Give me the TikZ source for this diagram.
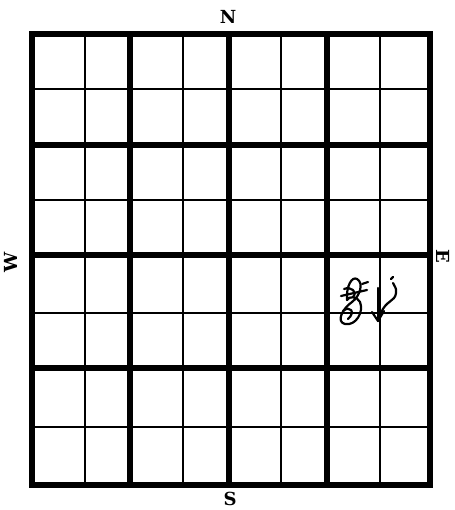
\documentclass[tikz,border=0pt]{standalone}
\usepackage{fontspec}
\newfontfamily\lblfont{DejaVu Serif}
\begin{document}
\begin{tikzpicture}[x=1pt,y=-1pt,
  thickline/.style={line width=5.5pt,line cap=rect},
  thinline/.style={line width=1.8pt},
  lbl/.style={font=\lblfont\bfseries\fontsize{18}{22}\selectfont,inner sep=0pt},
  scrib/.style={line width=2.2pt,line cap=round,line join=round}]
\useasboundingbox (0,0) rectangle (454,510);
% thin lines
\foreach \x in {85,183,281,380} \draw[thinline] (\x,34) -- (\x,485);
\foreach \y in {89,200,313,427} \draw[thinline] (32,\y) -- (430,\y);
% thick lines
\foreach \x in {130,229,327} \draw[thickline] (\x,34) -- (\x,485);
\foreach \y in {145,255,368} \draw[thickline] (32,\y) -- (430,\y);
\draw[thickline] (32,34) rectangle (430,485);
% labels
\node[lbl] (n) at (228,17) {N};
\node[lbl] (s) at (230,499) {S};
\node[lbl,rotate=90] (w) at (11,262) {W};
\node[lbl,rotate=-90] (e) at (443,256) {E};
% scribble
\draw[scrib] (347,300) .. controls (346,286) and (352,276) .. (357,279)
  .. controls (364,283) and (360,296) .. (352,302)
  .. controls (342,309) and (336,322) .. (345,324)
  .. controls (356,326) and (364,312) .. (360,302)
  .. controls (357,296) and (349,296) .. (347,300);
\draw[scrib] (341,296) -- (367,290);
\draw[scrib] (344,289) .. controls (351,286) and (358,292) .. (353,297);
\draw[scrib] (362,284) -- (368,282);
\draw[scrib] (343,311) .. controls (350,305) and (356,312) .. (348,319);
\draw[scrib] (378,288) -- (378,321);
\draw[scrib] (372,312) -- (378,321) -- (384,311);
\draw[scrib] (381,313) .. controls (386,300) and (395,302) .. (396,293)
  .. controls (397,288) and (394,286) .. (393,283);
\draw[scrib] (391,279) -- (393,277);
\end{tikzpicture}
\end{document}
